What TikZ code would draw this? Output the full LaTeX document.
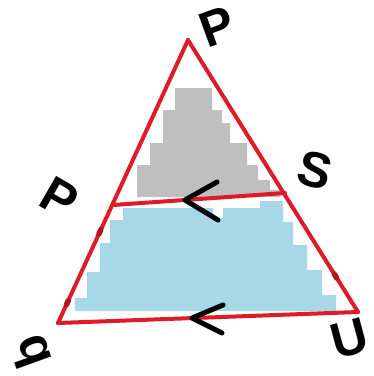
\documentclass[tikz,border=0pt]{standalone}
\usepackage{fontspec}
\setmainfont{Liberation Sans}
\usetikzlibrary{calc}
\begin{document}
\begin{tikzpicture}[x=1pt,y=-1pt,
  side/.style={draw=redline,line width=4pt,line cap=round,line join=round},
  tickmark/.style={draw=redline!80!black,line width=5.5pt,line cap=round},
  chev/.style={draw=black,line width=5pt,line cap=round,line join=round},
  lbl/.style={font=\fontsize{50}{50}\selectfont\bfseries,text=black,inner sep=0pt}]
\definecolor{redline}{RGB}{222,28,40}
\definecolor{greyfill}{RGB}{191,191,191}
\definecolor{bluefill}{RGB}{166,216,232}
\useasboundingbox (0,0) rectangle (374,376);
% vertices
\coordinate (P) at (188,40);
\coordinate (B) at (58,323);
\coordinate (C) at (358,312);
\coordinate (Q) at (113,205);
\coordinate (S) at (285,193);
% fills
\fill[greyfill] (137,197) -- (137,165) -- (150,165) -- (150,143) -- (163,143) -- (163,110) -- (175,110) -- (175,88) -- (212,88) -- (212,110) -- (222,110) -- (222,123) -- (230,123) -- (230,143) -- (247,143) -- (247,165) -- (258,165) -- (258,180) -- (270,180) -- (270,190) -- (280,190) -- (280,197) -- cycle;
\fill[bluefill] (123,208) -- (213,208) -- (213,218) -- (223,218) -- (223,208) -- (260,208) -- (260,201) -- (283,201) -- (283,222) -- (293,222) -- (293,245) -- (307,245) -- (307,270) -- (322,270) -- (322,295) -- (336,295) -- (336,311) -- (75,311) -- (75,298) -- (87,298) -- (87,272) -- (100,272) -- (100,243) -- (110,243) -- (110,220) -- (123,220) -- cycle;
% triangle sides
\draw[side] (P) -- (B);
\draw[side] (P) -- (C);
\draw[side] (B) -- (C);
\draw[side] (Q) -- (S);
% small marks on sides
\draw[tickmark] ($(P)!0.67!(B)$) -- ($(P)!0.685!(B)$);
\draw[tickmark] ($(P)!0.92!(B)$) -- ($(P)!0.935!(B)$);
\draw[tickmark] ($(P)!0.86!(C)$) -- ($(P)!0.875!(C)$);
% parallel chevrons
\coordinate (t1) at (185,200);
\coordinate (a1) at (217,182);
\coordinate (b1) at (218,220);
\draw[chev] (a1) -- (t1) -- (b1);
\coordinate (t2) at (192,318);
\coordinate (a2) at (223,305);
\coordinate (b2) at (222,333);
\draw[chev] (a2) -- (t2) -- (b2);
% labels
\node[lbl,rotate=20] (lP) at (217,27) {P};
\node[lbl,rotate=-30] (lQ) at (60,198) {P};
\node[lbl,rotate=-15] (lS) at (315,170) {S};
\node[lbl,rotate=-70] (lB) at (31,352) {q};
\node[lbl,rotate=15] (lC) at (350,338) {U};
\end{tikzpicture}
\end{document}
